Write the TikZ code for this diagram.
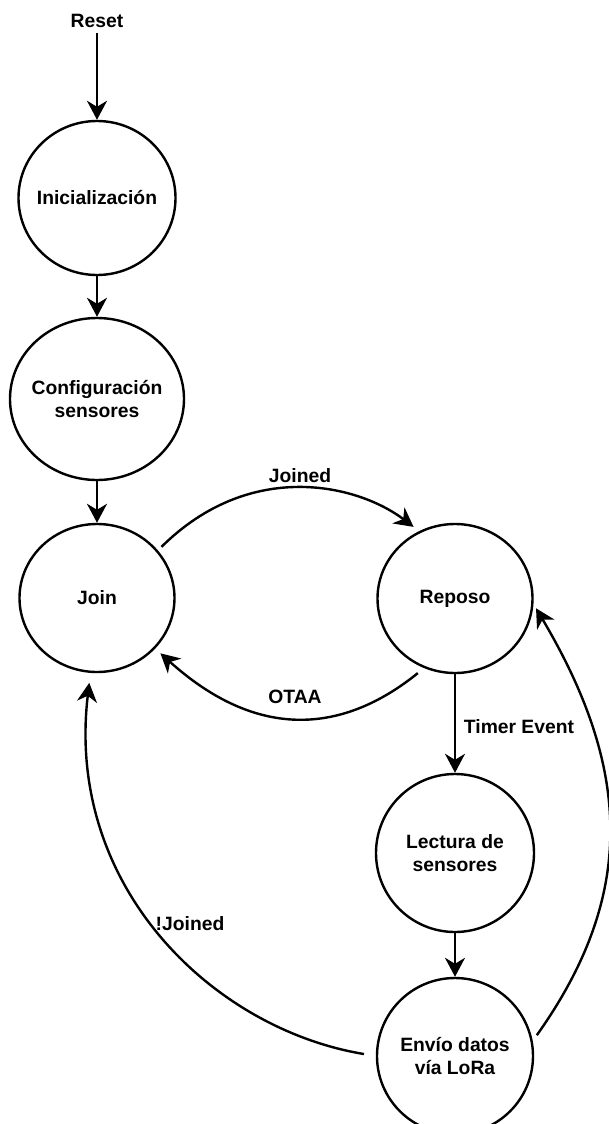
\documentclass[tikz,border=0pt]{standalone}
\usepackage{fontspec}
\setmainfont{Liberation Sans}
\usetikzlibrary{arrows.meta,shapes.geometric}
\begin{document}
\begin{tikzpicture}[x=1pt,y=-1pt,
  every node/.style={font=\fontsize{19.3}{22.7}\selectfont\bfseries},
  state/.style={ellipse,draw,line width=2.4pt,align=center,inner xsep=-12pt,inner ysep=0pt},
  lbl/.style={inner sep=1pt},
  flow/.style={line width=2.4pt,-{Stealth[length=19pt,width=20pt,inset=6pt]}}]
\useasboundingbox (0,0) rectangle (609,1124);
\clip (0,0) rectangle (609,1124);

% states
\node[state,minimum width=157pt,minimum height=154pt] (init)    at (97,198)    {Inicialización};
\node[state,minimum width=174pt,minimum height=162pt] (config)  at (97,399)    {Configuración\\sensores};
\node[state,minimum width=155pt,minimum height=148pt] (join)    at (97,598)    {Join};
\node[state,minimum width=155pt,minimum height=149pt] (reposo)  at (455,598.5) {Reposo};
\node[state,minimum width=158pt,minimum height=158pt] (lectura) at (455,853)   {Lectura de\\sensores};
\node[state,minimum width=156pt,minimum height=156pt] (envio)   at (455,1056)  {Envío datos\\vía LoRa};

% start label
\node[lbl] (reset) at (97,21) {Reset};

% transition labels
\node[lbl] (ljoined)  at (300,476) {Joined};
\node[lbl] (lotaa)    at (295,697) {OTAA};
\node[lbl] (ltimer)   at (519,727) {Timer Event};
\node[lbl] (lnjoined) at (190,924) {!Joined};

% straight transitions
\draw[flow,shorten <=4pt] (reset) -- (init);
\draw[flow] (init) -- (config);
\draw[flow] (config) -- (join);
\draw[flow] (reposo) -- (lectura);
\draw[flow] (lectura) -- (envio);

% curved transitions
\draw[flow,shorten <=5pt,shorten >=7pt]
  (join.38) .. controls (250,459) and (357,484) .. (reposo.118);
\draw[flow,shorten <=8pt,shorten >=7pt]
  (reposo.246) .. controls (350,728) and (264,746.5) .. (join.-41);
\draw[flow,shorten <=7pt,shorten >=5pt]
  (envio.11) .. controls (638,893) and (630,767) .. (reposo.-4);
\draw[flow,shorten <=12pt,shorten >=10pt]
  (envio.180) .. controls (213,1029) and (65,887) .. (join.265);
\end{tikzpicture}
\end{document}
